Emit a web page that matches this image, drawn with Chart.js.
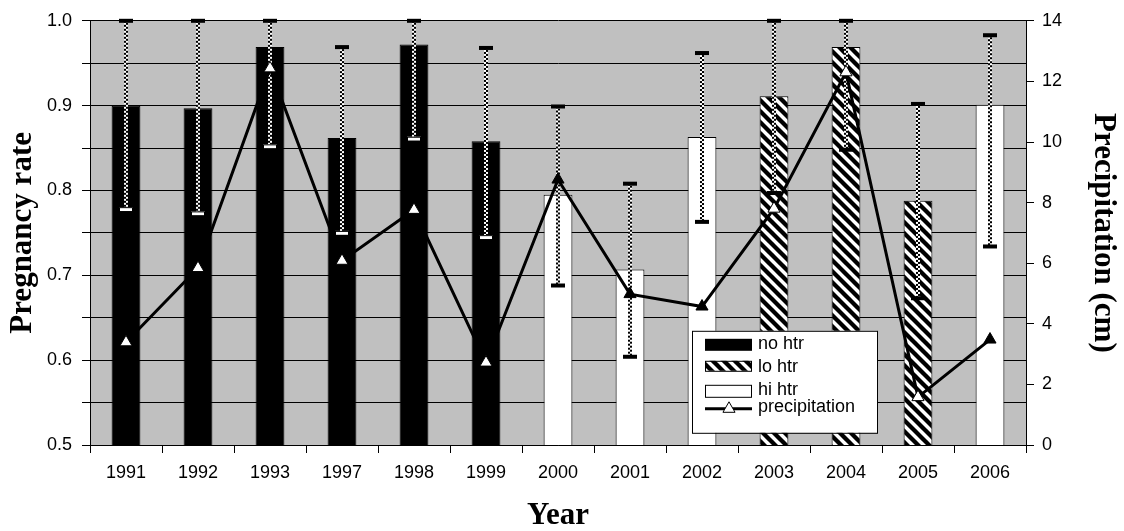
<!DOCTYPE html>
<html>
<head>
<meta charset="utf-8">
<style>
  html, body { margin: 0; padding: 0; background: #fff; }
  #wrap { width: 1124px; height: 531px; }
</style>
<script src="https://cdn.jsdelivr.net/npm/chart.js@4.4.1/dist/chart.umd.min.js"></script>
</head>
<body>
<div id="wrap"><canvas id="c" width="1124" height="531"></canvas></div>
<script>
// ---- data ----
const years = ['1991','1992','1993','1997','1998','1999','2000','2001','2002','2003','2004','2005','2006'];
const treatment = ['no','no','no','no','no','no','hi','hi','hi','lo','lo','lo','hi'];
const pregnancyRate = [0.900,0.897,0.969,0.862,0.972,0.858,0.795,0.707,0.863,0.911,0.969,0.788,0.901];
const lowerCI = [0.778,0.773,0.852,0.750,0.861,0.745,0.688,0.604,0.763,0.797,0.848,0.673,0.734];
const upperCI = [1.000,1.000,1.000,0.969,1.000,0.968,0.899,0.808,0.962,1.000,1.000,0.902,0.983];
const precipitation = [3.39,5.84,12.43,6.08,7.76,2.72,8.76,4.98,4.57,7.80,12.30,1.58,3.48];
const legendLabels = ['no htr','lo htr','hi htr','precipitation'];
const yTitle = 'Pregnancy rate';
const y1Title = 'Precipitation (cm)';
const xTitle = 'Year';

// ---- styles ----
const SANS = '"Liberation Sans", Arial, sans-serif';
const SERIF = '"Liberation Serif", "Times New Roman", serif';

function makeHatch() {
  const s = 11;
  const c = document.createElement('canvas');
  c.width = s; c.height = s;
  const g = c.getContext('2d');
  g.fillStyle = '#fff';
  g.fillRect(0, 0, s, s);
  g.strokeStyle = '#000';
  g.lineWidth = 4.3;
  for (let k = -1; k <= 1; k++) {
    g.beginPath();
    g.moveTo(k * s - 2, -2);
    g.lineTo(k * s + s + 2, s + 2);
    g.stroke();
  }
  return g.createPattern(c, 'repeat');
}
const hatch = makeHatch();
function fillFor(t) { return t === 'no' ? '#000' : (t === 'lo' ? hatch : '#fff'); }

const bgPlugin = {
  id: 'bg',
  beforeDraw(chart) {
    const { ctx, chartArea: a } = chart;
    ctx.save();
    ctx.fillStyle = '#fff';
    ctx.fillRect(0, 0, chart.width, chart.height);
    ctx.fillStyle = '#c0c0c0';
    ctx.fillRect(a.left, a.top, a.right - a.left, a.bottom - a.top);
    ctx.restore();
  }
};

const errPlugin = {
  id: 'errbars',
  beforeDatasetDraw(chart, args) {
    if (args.meta.type !== 'line') return;
    const { ctx } = chart;
    const xs = chart.scales.x, ys = chart.scales.y;
    ctx.save();
    for (let i = 0; i < years.length; i++) {
      const x = Math.round(xs.getPixelForValue(i));
      const yl = ys.getPixelForValue(lowerCI[i]);
      const yh = ys.getPixelForValue(upperCI[i]);
      ctx.fillStyle = '#fff';
      ctx.fillRect(x - 2, yh, 4, yl - yh);
      ctx.fillStyle = '#000';
      for (let y = yh, k = 0; y < yl; y += 2, k++) {
        const h = Math.min(2, yl - y);
        ctx.fillRect(k % 2 === 0 ? x - 2 : x, y, 2, h);
      }
      const capW = 14, capH = 4;
      ctx.fillStyle = '#000';
      ctx.fillRect(x - capW / 2, yh - capH / 2, capW, capH);
      if (treatment[i] === 'no' && lowerCI[i] < pregnancyRate[i]) {
        ctx.fillStyle = '#fff';
        ctx.fillRect(x - capW / 2, yl - capH / 2, capW, capH);
        ctx.strokeStyle = '#000';
        ctx.lineWidth = 1;
        ctx.strokeRect(x - capW / 2 + 0.5, yl - capH / 2 + 0.5, capW - 1, capH);
      } else {
        ctx.fillRect(x - capW / 2, yl - capH / 2, capW, capH);
      }
    }
    ctx.restore();
  }
};

const legendPlugin = {
  id: 'customLegend',
  afterDraw(chart) {
    const { ctx, chartArea: a } = chart;
    const bx = a.left + 602, by = a.top + 310, bw = 185, bh = 102;
    ctx.save();
    ctx.fillStyle = '#fff';
    ctx.fillRect(bx, by, bw, bh);
    ctx.strokeStyle = '#000';
    ctx.lineWidth = 1;
    ctx.strokeRect(bx + 0.5, by + 0.5, bw, bh);
    const sx = bx + 13, sw = 47;
    ctx.fillStyle = '#000';
    ctx.fillRect(sx, by + 8, sw, 12);
    ctx.fillStyle = hatch;
    ctx.fillRect(sx, by + 30, sw, 10);
    ctx.strokeRect(sx + 0.5, by + 30.5, sw - 1, 10);
    ctx.fillStyle = '#fff';
    ctx.fillRect(sx, by + 54, sw, 12);
    ctx.strokeRect(sx + 0.5, by + 54.5, sw - 1, 12);
    ctx.lineWidth = 3;
    ctx.beginPath();
    ctx.moveTo(sx, by + 78);
    ctx.lineTo(sx + sw, by + 78);
    ctx.stroke();
    const tx = sx + 24, ty = by + 78, r = 7;
    ctx.beginPath();
    ctx.moveTo(tx, ty - r);
    ctx.lineTo(tx + r * Math.sin(Math.PI * 2 / 3), ty - r * Math.cos(Math.PI * 2 / 3));
    ctx.lineTo(tx + r * Math.sin(Math.PI * 4 / 3), ty - r * Math.cos(Math.PI * 4 / 3));
    ctx.closePath();
    ctx.fillStyle = '#fff';
    ctx.fill();
    ctx.lineWidth = 1;
    ctx.stroke();
    ctx.fillStyle = '#000';
    ctx.font = '18px ' + SANS;
    ctx.textBaseline = 'middle';
    ctx.textAlign = 'left';
    const lx = bx + 66;
    ctx.fillText(legendLabels[0], lx, by + 13);
    ctx.fillText(legendLabels[1], lx, by + 36);
    ctx.fillText(legendLabels[2], lx, by + 59);
    ctx.fillText(legendLabels[3], lx, by + 76);
    ctx.restore();
  }
};

const tickFont = { family: SANS, size: 18 };
const titleFont = { family: SERIF, size: 31, weight: 'bold', lineHeight: 1 };

new Chart(document.getElementById('c'), {
  data: {
    labels: years,
    datasets: [
      {
        type: 'line',
        label: legendLabels[3],
        data: precipitation,
        yAxisID: 'y1',
        order: 0,
        borderColor: '#000',
        borderWidth: 3,
        tension: 0,
        pointStyle: 'triangle',
        pointRadius: 7,
        pointBackgroundColor: treatment.map(t => t === 'hi' ? '#000' : '#fff'),
        pointBorderColor: '#000',
        pointBorderWidth: 1
      },
      {
        type: 'bar',
        label: 'pregnancy rate',
        data: pregnancyRate,
        yAxisID: 'y',
        order: 1,
        backgroundColor: treatment.map(fillFor),
        borderColor: '#000',
        borderWidth: 1,
        categoryPercentage: 1,
        barPercentage: 0.4
      }
    ]
  },
  options: {
    responsive: false,
    animation: false,
    devicePixelRatio: 1,
    layout: { padding: { top: 16, left: 0, right: 0, bottom: 0 } },
    plugins: { legend: { display: false }, tooltip: { enabled: false } },
    scales: {
      x: {
        offset: true,
        grid: { offset: true, drawOnChartArea: false, drawTicks: true, tickLength: 8, color: '#000' },
        border: { color: '#000', width: 1 },
        ticks: { font: tickFont, color: '#000', padding: 9, maxRotation: 0 },
        title: { display: true, text: xTitle, font: titleFont, color: '#000', padding: 0 },
        afterFit(s) { s.height = 86; }
      },
      y: {
        position: 'left',
        min: 0.5, max: 1.0,
        grid: { color: '#000', tickLength: 8, lineWidth: 1 },
        border: { color: '#000', width: 1 },
        ticks: {
          stepSize: 0.05,
          font: tickFont, color: '#000', padding: 10,
          callback(v) { const r = Math.round(v * 100); return r % 10 === 0 ? (r / 100).toFixed(1) : ''; }
        },
        title: { display: true, text: yTitle, font: titleFont, color: '#000', padding: { top: 7, bottom: 0 } },
        afterFit(s) { s.width = 90; }
      },
      y1: {
        position: 'right',
        min: 0, max: 14,
        grid: { drawOnChartArea: false, color: '#000', tickLength: 8 },
        border: { color: '#000', width: 1 },
        ticks: { stepSize: 2, font: tickFont, color: '#000', padding: 8 },
        title: { display: true, text: y1Title, font: titleFont, color: '#000', padding: { top: 5, bottom: 0 } },
        afterFit(s) { s.width = 98; }
      }
    }
  },
  plugins: [bgPlugin, errPlugin, legendPlugin]
});
</script>
</body>
</html>
